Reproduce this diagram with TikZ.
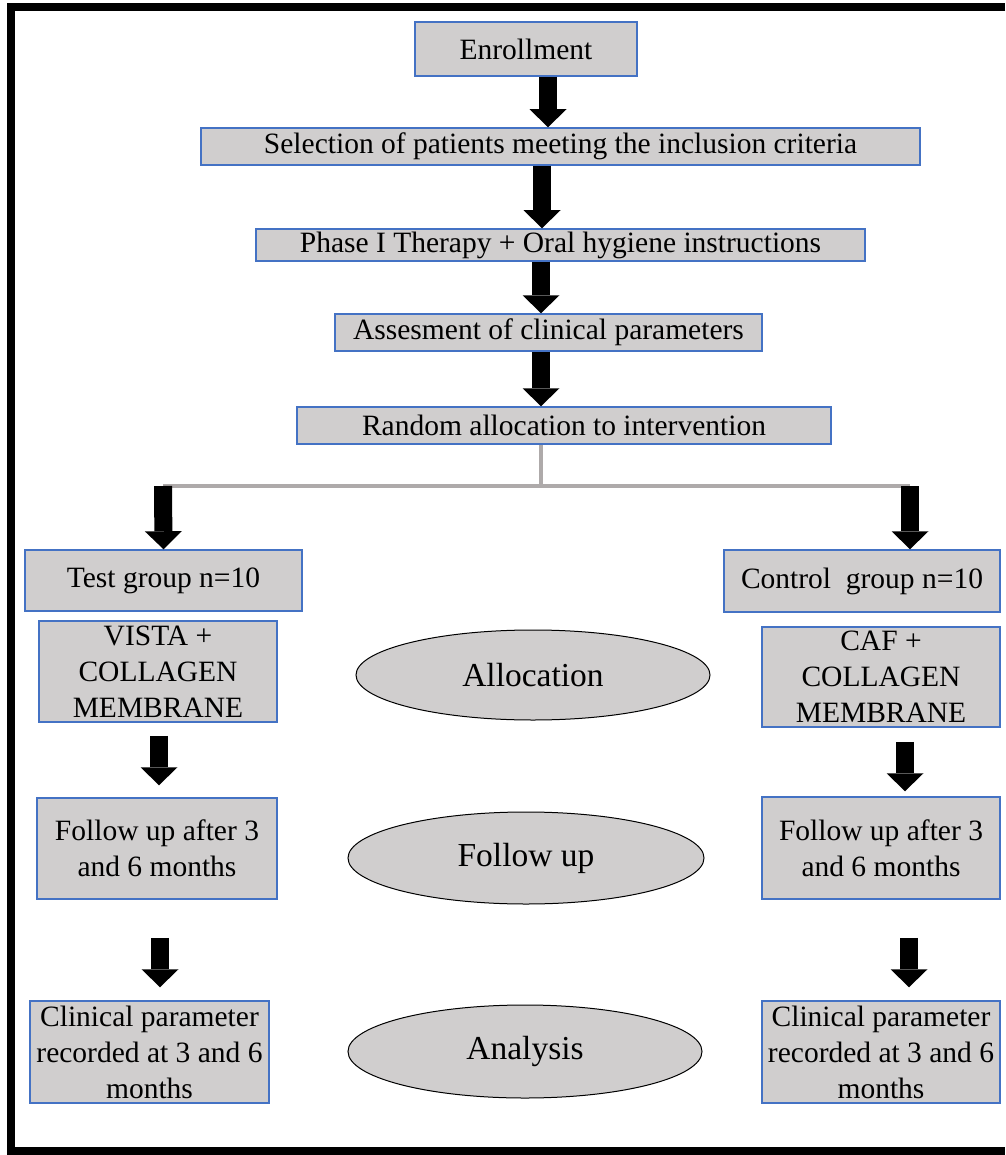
\documentclass[tikz,border=0pt]{standalone}
\usepackage{fontspec}
\setmainfont{Liberation Serif}
\usetikzlibrary{arrows.meta,shapes.geometric}
\definecolor{boxgray}{HTML}{D0CECE}
\definecolor{boxblue}{HTML}{4472C4}
\definecolor{linegray}{HTML}{AEAAAA}
\tikzset{
  stepbox/.style={draw=boxblue, line width=1.5pt, fill=boxgray, inner sep=0pt, align=center,
    font=\fontsize{29.5}{36}\selectfont},
  phasebox/.style={draw=black, line width=1pt, fill=boxgray, ellipse, inner sep=0pt,
    font=\fontsize{33.5}{40}\selectfont},
  bigarrow/.style={line width=18pt, -{Triangle[width=37pt,length=18pt,line width=0pt]}},
}
\begin{document}
\begin{tikzpicture}[x=1pt,y=-1pt]
  % Frame
  \useasboundingbox (0,0) rectangle (1005,1155);
  \draw[line width=8pt] (1005,7) -- (11,7) -- (11,1151) -- (1005,1151);

  % Main chain
  \node[stepbox, minimum width=222pt, minimum height=54pt] (enrol) at (526,49) {Enrollment};
  \node[stepbox, minimum width=719pt, minimum height=37pt] (select) at (560.5,146.5) {Selection of patients meeting the inclusion criteria};
  \node[stepbox, minimum width=609pt, minimum height=32pt] (phase) at (560.5,245) {Phase I Therapy + Oral hygiene instructions};
  \node[stepbox, minimum width=427pt, minimum height=37pt] (assess) at (548.5,332.5) {Assesment of clinical parameters};
  \node[stepbox, minimum width=534pt, minimum height=37pt] (random) at (564,425.5) {Random allocation to intervention};

  \draw[bigarrow] ([xshift=22pt]enrol.south) -- ([xshift=-12.5pt]select.north);
  \draw[bigarrow] ([xshift=-18.5pt]select.south) -- ([xshift=-18.5pt]phase.north);
  \draw[bigarrow] ([xshift=-19.5pt]phase.south) -- ([xshift=-7.5pt]assess.north);
  \draw[bigarrow] ([xshift=-7.5pt]assess.south) -- ([xshift=-23pt]random.north);

  % Split
  \coordinate (split) at (541,486);
  \coordinate (lsplit) at (163,486);
  \coordinate (rsplit) at (910,486);
  \draw[linegray, line width=4pt] ([xshift=-23pt]random.south) -- (split);
  \draw[linegray, line width=4pt] (lsplit) -- (rsplit);

  % Test arm
  \node[stepbox, minimum width=277pt, minimum height=61pt] (test) at (163.5,580.5) {Test group n=10};
  \node[stepbox, minimum width=238pt, minimum height=101pt] (vista) at (158,671.5) {VISTA +\\COLLAGEN\\MEMBRANE};
  \node[stepbox, minimum width=240pt, minimum height=101pt] (fuleft) at (157,848.5) {Follow up after 3\\and 6 months};
  \node[stepbox, minimum width=239pt, minimum height=102pt] (clleft) at (149.5,1052) {Clinical parameter\\recorded at 3 and 6\\months};

  % Control arm
  \node[stepbox, minimum width=276pt, minimum height=62pt] (control) at (862,581) {Control\ \ group n=10};
  \node[stepbox, minimum width=238pt, minimum height=100pt] (caf) at (881,677) {CAF +\\COLLAGEN\\MEMBRANE};
  \node[stepbox, minimum width=238pt, minimum height=102pt] (furight) at (881,848) {Follow up after 3\\and 6 months};
  \node[stepbox, minimum width=238pt, minimum height=102pt] (clright) at (881,1052) {Clinical parameter\\recorded at 3 and 6\\months};

  % Stages
  \node[phasebox, minimum width=354pt, minimum height=90pt] (alloc) at (533,675) {Allocation};
  \node[phasebox, minimum width=356pt, minimum height=92pt] (follow) at (526,858) {Follow up};
  \node[phasebox, minimum width=354pt, minimum height=93pt] (analysis) at (525,1051.5) {Analysis};

  % Arm arrows
  \draw[bigarrow] (lsplit) -- (test.north);
  \draw[bigarrow] (rsplit) -- ([xshift=48pt]control.north);
  \draw[bigarrow] ([shift={(1,13)}]vista.south) -- ([shift={(2,-12)}]fuleft.north);
  \draw[bigarrow] ([shift={(24,14)}]caf.south) -- ([shift={(24,-5)}]furight.north);
  \draw[bigarrow] ([shift={(3,38)}]fuleft.south) -- ([shift={(10.5,-13)}]clleft.north);
  \draw[bigarrow] ([shift={(28,38)}]furight.south) -- ([shift={(28,-13)}]clright.north);
\end{tikzpicture}
\end{document}
